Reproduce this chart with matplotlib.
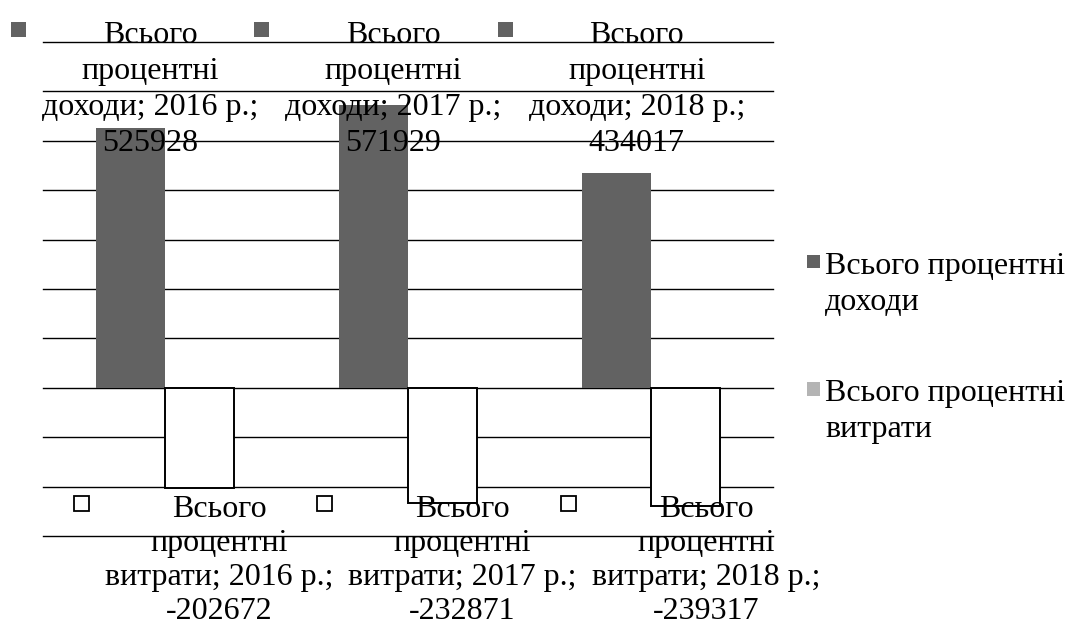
import matplotlib.pyplot as plt
from matplotlib.patches import Rectangle
import numpy as np

years = ["2016", "2017", "2018"]
income = [525928, 571929, 434017]
expenses = [-202672, -232871, -239317]
income_label = "Всього процентні\nдоходи"
expense_label = "Всього процентні\nвитрати"

INCOME_COLOR = "#626262"
EXPENSE_KEY_COLOR = "#b4b4b4"
FS = 23
LS = 1.32

plt.rcParams["font.family"] = ["Liberation Serif", "DejaVu Serif"]

W, H = 1072, 628
fig = plt.figure(figsize=(W / 100, H / 100), dpi=100)
ax = fig.add_axes([43 / W, 1 - 536 / H, 730 / W, 494 / H])

x = np.arange(len(years))
width = 0.284
ax.bar(x - width / 2, income, width, color=INCOME_COLOR, zorder=2)
ax.bar(x + width / 2, expenses, width, color="white", edgecolor="black",
       linewidth=1.4, zorder=2)

ax.set_xlim(-0.5, len(years) - 0.5)
ax.set_ylim(-300000, 700000)
ax.set_yticks(np.arange(-300000, 700001, 100000))
ax.grid(axis="y", color="black", linewidth=1.0)
ax.set_axisbelow(True)
for line in ax.get_ygridlines():
    line.set_clip_on(False)
ax.tick_params(left=False, bottom=False, labelleft=False, labelbottom=False)
for s in ax.spines.values():
    s.set_visible(False)

to_fig = fig.transFigure.inverted()


def add_box(x0, y_top, size, face, edge, lw=0.0):
    # square in display pixels, converted to figure fraction
    (fx0, fy0) = to_fig.transform((x0, y_top - size))
    (fx1, fy1) = to_fig.transform((x0 + size, y_top))
    fig.add_artist(Rectangle((fx0, fy0), fx1 - fx0, fy1 - fy0,
                             facecolor=face, edgecolor=edge, linewidth=lw))


labels = []
for i, yr in enumerate(years):
    t = ax.annotate(f"Всього\nпроцентні\nдоходи; {yr} р.;\n{income[i]}",
                    xy=(x[i] - width / 2, 1.0425), xycoords=("data", "axes fraction"),
                    xytext=(20, 0), textcoords="offset pixels",
                    ha="center", va="top", fontsize=FS, linespacing=LS,
                    annotation_clip=False, zorder=5)
    labels.append((t, INCOME_COLOR, "none", 0.0))
    t = ax.annotate(f"Всього\nпроцентні\nвитрати; {yr} р.;\n{expenses[i]}",
                    xy=(x[i] + width / 2, 0.084), xycoords=("data", "axes fraction"),
                    xytext=(20, 0), textcoords="offset pixels",
                    ha="center", va="top", fontsize=FS, linespacing=1.24,
                    annotation_clip=False, zorder=5)
    labels.append((t, "white", "black", 1.3))

renderer = fig.canvas.get_renderer()
for t, face, edge, lw in labels:
    bb = t.get_window_extent(renderer)
    add_box(bb.x0 - 31, bb.y1 - 1, 15, face, edge, lw)

# legend on the right, key squares aligned with the first text line
legend_items = [(income_label, INCOME_COLOR, 255), (expense_label, EXPENSE_KEY_COLOR, 382)]
for text, color, top in legend_items:
    add_box(807, H - top, 13.5, color, "none")
    fig.text(825 / W, 1 - (top - 3) / H, text, ha="left", va="top",
             fontsize=FS, linespacing=LS)

fig.savefig("out.png", dpi=100)
